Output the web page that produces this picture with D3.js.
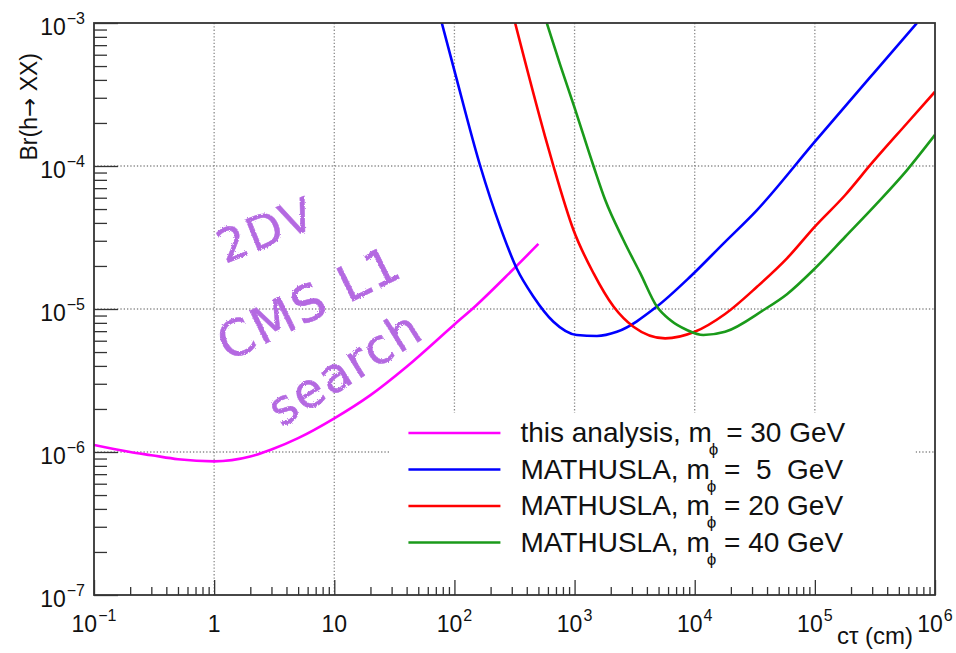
<!DOCTYPE html>
<html>
<head>
<meta charset="utf-8">
<script src="https://cdn.jsdelivr.net/npm/d3@7"></script>
<style>
  body { margin: 0; background: #fff; }
  text { font-family: "Liberation Sans", Arial, Helvetica, sans-serif; fill: #111; }
  .note { font-family: "DejaVu Sans", sans-serif; fill: #b469e1; stroke: #b469e1; stroke-width: 0.5; }
</style>
</head>
<body>
<div id="chart"></div>
<script>
// ct (cm) vs Br(h -> XX)
var magentaX = [0.1, 0.2, 0.3, 0.5, 1, 2, 3, 5, 10, 20, 40, 100, 150, 300, 500];
var magentaY = [1.12e-6, 1.0e-6, 9.5e-7, 8.9e-7, 8.6e-7, 9.3e-7, 1.04e-6, 1.25e-6, 1.72e-6, 2.5e-6, 3.95e-6, 7.8e-6, 1.05e-5, 1.85e-5, 2.85e-5];

var blueX = [78.5, 101, 164, 240, 330, 455, 667, 1044, 1535, 2250, 4840, 9160, 17400, 33000, 100000, 308000, 708000];
var blueY = [1e-3, 4.5e-4, 1e-4, 3.77e-5, 1.92e-5, 1.22e-5, 8.15e-6, 6.58e-6, 6.48e-6, 6.93e-6, 1.04e-5, 1.68e-5, 2.88e-5, 4.92e-5, 1.48e-4, 4.45e-4, 1e-3];

var redX = [320, 569, 667, 979, 1437, 2110, 3090, 5680, 10000, 17900, 33000, 58600, 100000, 179000, 299000, 585000, 1e6];
var redY = [1e-3, 1.6e-4, 1e-4, 3.57e-5, 1.78e-5, 1.04e-5, 7.52e-6, 6.23e-6, 6.93e-6, 9.23e-6, 1.43e-5, 2.26e-5, 3.77e-5, 6.27e-5, 1.05e-4, 1.99e-4, 3.31e-4];

var greenX = [587, 759, 993, 1437, 1800, 2550, 3520, 4840, 6250, 8610, 11800, 17900, 37400, 58600, 100000, 179000, 329000, 585000, 1e6];
var greenY = [1e-3, 5.1e-4, 2.6e-4, 1e-4, 5.78e-5, 3.04e-5, 1.78e-5, 1.04e-5, 8.37e-6, 7.13e-6, 6.58e-6, 6.93e-6, 9.84e-6, 1.27e-5, 1.92e-5, 3.2e-5, 5.48e-5, 9.37e-5, 1.65e-4];

var seriesColors = ["#ff00ff", "#0000ff", "#ff0000", "#1a9a1a"];
var legendNames = ["this analysis, m", "MATHUSLA, m", "MATHUSLA, m", "MATHUSLA, m"];
var legendMass = ["= 30 GeV", "=  5  GeV", "= 20 GeV", "= 40 GeV"];

var xMajor = [0.1, 1, 10, 100, 1e3, 1e4, 1e5, 1e6];
var xLabelBase = ["10", "1", "10", "10", "10", "10", "10", "10"];
var xLabelExp = ["\u22121", "", "", "2", "3", "4", "5", "6"];
var yMajor = [1e-7, 1e-6, 1e-5, 1e-4, 1e-3];
var yLabelExp = ["\u22127", "\u22126", "\u22125", "\u22124", "\u22123"];

var noteLines = ["2DV", "CMS L1", "search"];

var svgWidth = 956;
var svgHeight = 653;
var margin = {top: 23, right: 21, bottom: 58, left: 94};
var width = svgWidth - margin.left - margin.right;
var height = svgHeight - margin.top - margin.bottom;

var svg = d3.select("#chart")
    .append("svg")
    .attr("width", svgWidth)
    .attr("height", svgHeight)
    .style("display", "block");

var defs = svg.append("defs");
defs.append("clipPath")
    .attr("id", "plotClip")
    .append("rect")
    .attr("width", width)
    .attr("height", height);
var rough = defs.append("filter").attr("id", "rough");
rough.append("feTurbulence")
    .attr("type", "fractalNoise")
    .attr("baseFrequency", "0.7")
    .attr("numOctaves", 2)
    .attr("result", "noise");
rough.append("feDisplacementMap")
    .attr("in", "SourceGraphic")
    .attr("in2", "noise")
    .attr("scale", 3);

var chartGroup = svg.append("g")
    .attr("transform", `translate(${margin.left}, ${margin.top})`);

var xLogScale = d3.scaleLog().domain([0.1, 1e6]).range([0, width]);
var yLogScale = d3.scaleLog().domain([1e-7, 1e-3]).range([height, 0]);

// minor tick values 2..9 per decade
var xMinor = [];
xMajor.slice(0, -1).forEach(function(m) {
    for (var k = 2; k <= 9; k++) xMinor.push(m * k);
});
var yMinor = [];
yMajor.slice(0, -1).forEach(function(m) {
    for (var k = 2; k <= 9; k++) yMinor.push(m * k);
});

// dotted grid
chartGroup.selectAll(".xgrid")
    .data(xMajor.slice(1, -1))
    .enter()
    .append("line")
    .attr("class", "xgrid")
    .attr("x1", d => xLogScale(d))
    .attr("x2", d => xLogScale(d))
    .attr("y1", 0)
    .attr("y2", height)
    .attr("stroke", "#8a8a8a")
    .attr("stroke-width", 1.3)
    .attr("stroke-dasharray", "1.3,2");
chartGroup.selectAll(".ygrid")
    .data(yMajor.slice(1, -1))
    .enter()
    .append("line")
    .attr("class", "ygrid")
    .attr("x1", 0)
    .attr("x2", width)
    .attr("y1", d => yLogScale(d))
    .attr("y2", d => yLogScale(d))
    .attr("stroke", "#8a8a8a")
    .attr("stroke-width", 1.3)
    .attr("stroke-dasharray", "1.3,2");

// curves
var series = [
    {x: magentaX, y: magentaY},
    {x: blueX, y: blueY},
    {x: redX, y: redY},
    {x: greenX, y: greenY}
];
var line = d3.line()
    .x(d => xLogScale(d[0]))
    .y(d => yLogScale(d[1]))
    .curve(d3.curveMonotoneX);

chartGroup.append("g")
    .attr("clip-path", "url(#plotClip)")
    .selectAll("path")
    .data(series)
    .enter()
    .append("path")
    .attr("d", s => line(s.x.map((v, i) => [v, s.y[i]])))
    .attr("fill", "none")
    .attr("stroke", (s, i) => seriesColors[i])
    .attr("stroke-width", 2.6)
    .attr("stroke-linejoin", "round");

// handwritten note
var notePos = [[266, 230, -22, 46], [309, 303, -26, 50], [345, 368, -32, 48]];
svg.append("g")
    .attr("filter", "url(#rough)")
    .selectAll(".note")
    .data(noteLines)
    .enter()
    .append("text")
    .attr("class", "note")
    .attr("transform", (d, i) => `translate(${notePos[i][0]}, ${notePos[i][1]}) rotate(${notePos[i][2]})`)
    .attr("text-anchor", "middle")
    .attr("dy", "0.35em")
    .style("font-size", (d, i) => notePos[i][3] + "px")
    .style("letter-spacing", "2px")
    .text(d => d);

// legend
var legend = chartGroup.append("g")
    .attr("transform", `translate(${xLogScale(1e2) - 64}, ${yLogScale(1e-6) - 39})`);
legend.append("rect")
    .attr("width", 525)
    .attr("height", 180)
    .attr("fill", "#fff");
var entry = legend.selectAll(".entry")
    .data(legendNames)
    .enter()
    .append("g")
    .attr("class", "entry")
    .attr("transform", (d, i) => `translate(0, ${20 + i * 36.5})`);
entry.append("line")
    .attr("x1", 18)
    .attr("x2", 110)
    .attr("stroke", (d, i) => seriesColors[i])
    .attr("stroke-width", 2.6);
var entryText = entry.append("text")
    .attr("x", 130)
    .attr("y", 9)
    .style("font-size", "28px")
    .style("white-space", "pre");
entryText.append("tspan").text(d => d);
entryText.append("tspan")
    .attr("dy", 13)
    .attr("dx", -3)
    .style("font-size", "17px")
    .text("\u03d5");
entryText.append("tspan")
    .attr("dy", -13)
    .text((d, i) => " " + legendMass[i]);

// axes with inward ticks
chartGroup.append("g")
    .attr("transform", `translate(0, ${height})`)
    .call(d3.axisBottom(xLogScale).tickValues(xMajor).tickSize(-15).tickFormat(""));
chartGroup.append("g")
    .attr("transform", `translate(0, ${height})`)
    .call(d3.axisBottom(xLogScale).tickValues(xMinor).tickSize(-8).tickFormat(""));
chartGroup.append("g")
    .call(d3.axisLeft(yLogScale).tickValues(yMajor).tickSize(-24).tickFormat(""));
chartGroup.append("g")
    .call(d3.axisLeft(yLogScale).tickValues(yMinor).tickSize(-13).tickFormat(""));
chartGroup.selectAll(".domain").remove();
chartGroup.selectAll(".tick line")
    .attr("stroke", "#333")
    .attr("stroke-width", 1.3);

chartGroup.append("rect")
    .attr("width", width)
    .attr("height", height)
    .attr("fill", "none")
    .attr("stroke", "#333")
    .attr("stroke-width", 1.8);

// tick labels
var xLabels = chartGroup.selectAll(".xlab")
    .data(xMajor)
    .enter()
    .append("text")
    .attr("class", "xlab")
    .attr("x", d => xLogScale(d))
    .attr("y", height + 37)
    .attr("text-anchor", "middle")
    .style("font-size", "23px");
xLabels.append("tspan").text((d, i) => xLabelBase[i]);
xLabels.append("tspan")
    .attr("dy", -11)
    .attr("dx", 1)
    .style("font-size", "16px")
    .text((d, i) => xLabelExp[i]);

var yLabels = chartGroup.selectAll(".ylab")
    .data(yMajor)
    .enter()
    .append("text")
    .attr("class", "ylab")
    .attr("x", -9)
    .attr("y", d => yLogScale(d) + 12)
    .attr("text-anchor", "end")
    .style("font-size", "23px");
yLabels.append("tspan").text("10");
yLabels.append("tspan")
    .attr("dy", -11)
    .attr("dx", 1)
    .style("font-size", "16px")
    .text((d, i) => yLabelExp[i]);

// axis titles
var yTitle = svg.append("text")
    .attr("transform", "translate(37, 53) rotate(-90)")
    .attr("text-anchor", "end")
    .style("font-size", "23px");
yTitle.append("tspan").text("Br(h");
yTitle.append("tspan").style("font-family", "DejaVu Sans").text("\u2192");
yTitle.append("tspan").text(" XX)");
svg.append("text")
    .attr("x", 913)
    .attr("y", 644)
    .attr("text-anchor", "end")
    .style("font-size", "24px")
    .text("c\u03c4 (cm)");
</script>
</body>
</html>
